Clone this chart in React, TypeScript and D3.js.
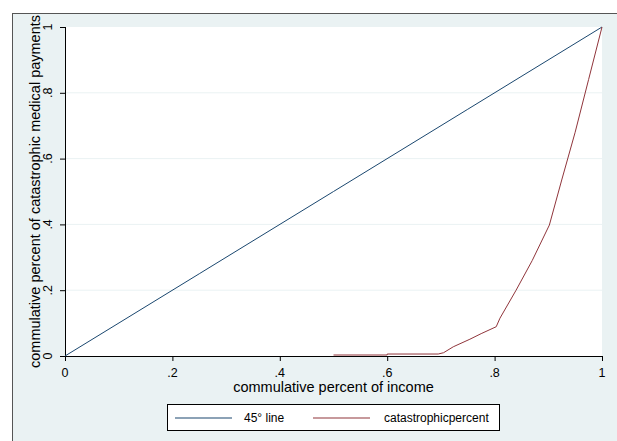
import React from "react";
import * as d3 from "d3";

const W = 617;
const H = 441;

const tickValues = [0, 0.2, 0.4, 0.6, 0.8, 1];
const tickLabels = ["0", ".2", ".4", ".6", ".8", "1"];
const gridValues = [0.2, 0.4, 0.6, 0.8];

const lineX = [0, 0.25, 0.5, 0.75, 1];
const lineY = [0, 0.25, 0.5, 0.75, 1];

const catX = [0.5, 0.6, 0.6, 0.695, 0.705, 0.723, 0.754, 0.775, 0.803, 0.81, 0.84, 0.87, 0.902, 0.925, 0.95, 0.975, 1];
const catY = [0.003, 0.003, 0.006, 0.006, 0.01, 0.028, 0.051, 0.068, 0.089, 0.115, 0.2, 0.29, 0.398, 0.535, 0.68, 0.84, 1];

const seriesNames = ["45° line", "catastrophicpercent"];
const seriesColors = ["#1a476f", "#90353b"];

const xTitle = "commulative percent of income";
const yTitle = "commulative percent of catastrophic medical payments";

export default function App() {
  const x = d3.scaleLinear().domain([0, 1]).range([65, 602]);
  const y = d3.scaleLinear().domain([0, 1]).range([356, 27]);
  const line = d3
    .line<[number, number]>()
    .x((d) => x(d[0]))
    .y((d) => y(d[1]));
  const blue = line(lineX.map((v, i) => [v, lineY[i]]) as [number, number][]) || "";
  const red = line(catX.map((v, i) => [v, catY[i]]) as [number, number][]) || "";
  const font = "'Liberation Sans', Arial, sans-serif";

  return (
    <svg
      width={W}
      height={H}
      style={{ position: "absolute", left: 0, top: 0, display: "block" }}
      fontFamily={font}
    >
      <rect x={0} y={0} width={W} height={H} fill="#ffffff" />
      <rect x={12} y={13} width={W - 12} height={H - 13} fill="#eaf2f3" />
      <line x1={12} y1={13.5} x2={W} y2={13.5} stroke="#555" strokeWidth={1} />
      <line x1={12.5} y1={13} x2={12.5} y2={H} stroke="#555" strokeWidth={1} />

      <rect x={x(0)} y={y(1)} width={x(1) - x(0)} height={y(0) - y(1)} fill="#ffffff" />
      {gridValues.map((g) => (
        <line key={g} x1={x(0)} x2={x(1)} y1={y(g)} y2={y(g)} stroke="#eaf2f3" strokeWidth={1} />
      ))}

      {/* axes */}
      <line x1={x(0) + 0.5} x2={x(0) + 0.5} y1={y(1)} y2={y(0)} stroke="#000" strokeWidth={1} />
      <line x1={x(0)} x2={x(1) + 1} y1={y(0) + 0.5} y2={y(0) + 0.5} stroke="#000" strokeWidth={1} />
      {tickValues.map((t, i) => (
        <g key={"y" + t}>
          <line x1={x(0) - 5} x2={x(0)} y1={y(t) + 0.5} y2={y(t) + 0.5} stroke="#000" />
          <text
            transform={`translate(52,${y(t)}) rotate(-90)`}
            textAnchor="middle"
            fontSize={12.5}
            fill="#000"
          >
            {tickLabels[i]}
          </text>
        </g>
      ))}
      {tickValues.map((t, i) => (
        <g key={"x" + t}>
          <line x1={x(t) + 0.5} x2={x(t) + 0.5} y1={y(0)} y2={y(0) + 5} stroke="#000" />
          <text x={x(t)} y={377} textAnchor="middle" fontSize={12.5} fill="#000">
            {tickLabels[i]}
          </text>
        </g>
      ))}

      <text x={(x(0) + x(1)) / 2} y={392} textAnchor="middle" fontSize={14.5} fill="#000">
        {xTitle}
      </text>
      <text
        transform={`translate(40,${(y(0) + y(1)) / 2}) rotate(-90)`}
        textAnchor="middle"
        fontSize={14.5}
        fill="#000"
      >
        {yTitle}
      </text>

      <path d={blue} fill="none" stroke={seriesColors[0]} strokeWidth={1} />
      <path d={red} fill="none" stroke={seriesColors[1]} strokeWidth={1} />

      {/* legend */}
      <rect x={167.5} y={404.5} width={332} height={26} fill="#ffffff" stroke="#000" strokeWidth={1} />
      <line x1={175} x2={232} y1={418} y2={418} stroke={seriesColors[0]} strokeWidth={1.2} />
      <text x={244} y={422} fontSize={12} fill="#000">
        {seriesNames[0]}
      </text>
      <line x1={313} x2={370} y1={418} y2={418} stroke={seriesColors[1]} strokeWidth={1.2} />
      <text x={384} y={422} fontSize={12} fill="#000">
        {seriesNames[1]}
      </text>
    </svg>
  );
}
